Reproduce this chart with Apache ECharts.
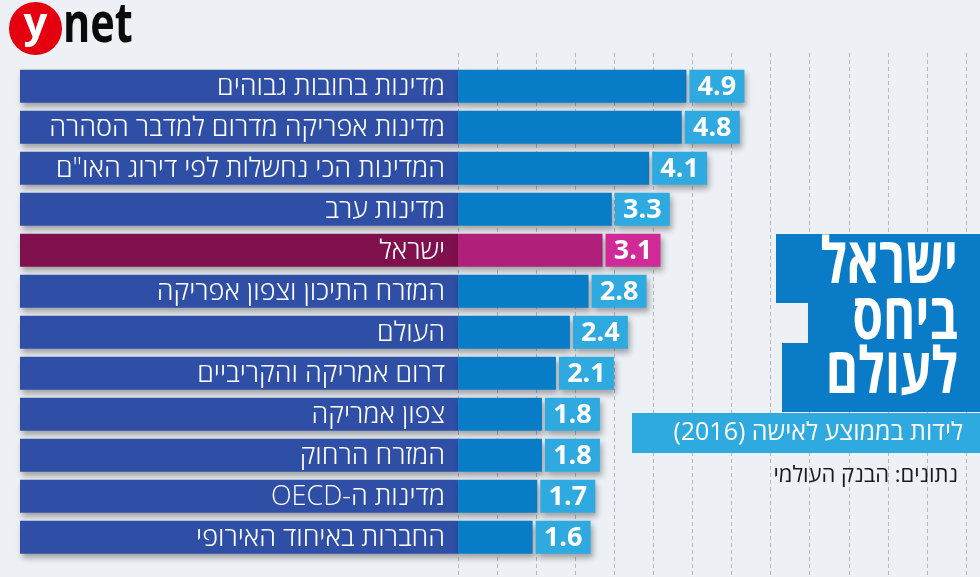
<!DOCTYPE html>
<html>
<head>
<meta charset="utf-8">
<script src="https://cdn.jsdelivr.net/npm/echarts@6/dist/echarts.min.js"></script>
<style>
html,body{margin:0;padding:0;background:#edf0f5;}
#chart{width:980px;height:577px;}
</style>
</head>
<body>
<div id="chart" dir="rtl"></div>
<script>
// ---- data ----
const categories = [
  'מדינות בחובות גבוהים',
  'מדינות אפריקה מדרום למדבר הסהרה',
  'המדינות הכי נחשלות לפי דירוג האו"ם',
  'מדינות ערב',
  'ישראל',
  'המזרח התיכון וצפון אפריקה',
  'העולם',
  'דרום אמריקה והקריביים',
  'צפון אמריקה',
  'המזרח הרחוק',
  'מדינות ה-OECD',
  'החברות באיחוד האירופי'
];
const values = [4.9, 4.8, 4.1, 3.3, 3.1, 2.8, 2.4, 2.1, 1.8, 1.8, 1.7, 1.6];
const highlight = 'ישראל';
const titleLines = ['ישראל', 'ביחס', 'לעולם'];
const subtitle = 'לידות בממוצע לאישה (2016)';
const source = 'נתונים: הבנק העולמי';

// ---- style ----
const FONT = "'Open Sans', 'DejaVu Sans', sans-serif";
const X_MIN = -9.4, X_MAX = 11.2;
const C = {
  dark: '#2e4fa5', light: '#087cc7', box: '#2eaae0',
  ilDark: '#7f104d', ilLight: '#b01f79', ilBox: '#d12a98',
  title: '#0a7bc6', sub: '#2eaae0'
};

const chart = echarts.init(document.getElementById('chart'), null, {renderer: 'canvas'});

function renderItem(params, api) {
  const idx = api.value(0);
  const val = api.value(1);
  const c0 = api.coord([X_MIN, idx]);
  const cz = api.coord([0, idx]);
  const cv = api.coord([val, idx]);
  const h = api.size([0, 1])[1] * 0.805;
  const y = cz[1] - h / 2;
  const il = categories[idx] === highlight;
  const sh = {shadowBlur: 6, shadowOffsetX: 2, shadowOffsetY: 4, shadowColor: 'rgba(0,0,0,0.33)'};
  const boxW = 55;
  return {
    type: 'group',
    children: [
      {type: 'rect', shape: {x: c0[0], y: y, width: cz[0] - c0[0], height: h},
        style: Object.assign({fill: il ? C.ilDark : C.dark}, sh)},
      {type: 'rect', shape: {x: cz[0], y: y, width: cv[0] - cz[0], height: h},
        style: Object.assign({fill: il ? C.ilLight : C.light}, sh)},
      {type: 'rect', shape: {x: cv[0] + 3, y: y, width: boxW, height: h},
        style: Object.assign({fill: il ? C.ilBox : C.box}, sh)},
      {type: 'text', x: cz[0] - 13, y: cz[1] + 1,
        style: {text: categories[idx], fill: '#ffffff', font: '300 27px ' + FONT,
          align: 'right', verticalAlign: 'middle'}},
      {type: 'text', x: cv[0] + 3 + boxW / 2, y: cz[1] + 1,
        style: {text: val.toFixed(1), fill: '#ffffff', font: '700 27px ' + FONT,
          align: 'center', verticalAlign: 'middle'}}
    ]
  };
}

const option = {
  backgroundColor: '#edf0f5',
  animation: false,
  grid: [
    {left: 20, right: 0, top: 65.8, bottom: 19.2},
    {left: 458, right: 14, top: 53, bottom: 0}
  ],
  xAxis: [
    {type: 'value', gridIndex: 0, min: X_MIN, max: X_MAX, show: false},
    {type: 'value', gridIndex: 1, min: 0, max: 13, interval: 1,
      axisLine: {show: false}, axisTick: {show: false}, axisLabel: {show: false},
      splitLine: {show: true, lineStyle: {color: '#b4b8c0', type: [4, 3], width: 1}}}
  ],
  yAxis: [
    {type: 'category', gridIndex: 0, data: categories, inverse: true, show: false},
    {type: 'value', gridIndex: 1, show: false, splitLine: {show: false}}
  ],
  series: [{
    type: 'custom',
    xAxisIndex: 0, yAxisIndex: 0,
    renderItem: renderItem,
    encode: {x: 1, y: 0},
    data: categories.map((c, i) => [i, values[i]]),
    z: 5
  }],
  graphic: [
    // ynet logo
    {type: 'circle', shape: {cx: 35.5, cy: 28.5, r: 26.5}, style: {fill: '#e4000f'}, z: 100},
    {type: 'text', x: 35.5, y: 25, z: 101,
      style: {text: 'y', fill: '#ffffff', font: '700 42px ' + FONT, align: 'center', verticalAlign: 'middle'}},
    {type: 'text', x: 63, y: 26, z: 101, scaleX: 0.74,
      style: {text: 'net', fill: '#0a0a0a', font: "700 56px " + FONT,
        align: 'left', verticalAlign: 'middle'}},
    // title boxes
    {type: 'rect', shape: {x: 776, y: 234, width: 204, height: 69}, style: {fill: C.title}, z: 100},
    {type: 'rect', shape: {x: 808, y: 300, width: 172, height: 46}, style: {fill: C.title}, z: 100},
    {type: 'rect', shape: {x: 782, y: 343, width: 198, height: 69}, style: {fill: C.title}, z: 100},
    {type: 'text', x: 958, y: 265, z: 101, scaleX: 0.77,
      style: {text: titleLines[0], fill: '#fff', font: '700 64px ' + FONT, align: 'right', verticalAlign: 'middle'}},
    {type: 'text', x: 958, y: 321, z: 101, scaleX: 0.77,
      style: {text: titleLines[1], fill: '#fff', font: '700 64px ' + FONT, align: 'right', verticalAlign: 'middle'}},
    {type: 'text', x: 958, y: 375, z: 101, scaleX: 0.77,
      style: {text: titleLines[2], fill: '#fff', font: '700 64px ' + FONT, align: 'right', verticalAlign: 'middle'}},
    // subtitle
    {type: 'rect', shape: {x: 632, y: 413, width: 348, height: 40}, style: {fill: C.sub}, z: 100},
    {type: 'text', x: 963, y: 433, z: 101,
      style: {text: subtitle, fill: '#fff', font: '400 25px ' + FONT, align: 'right', verticalAlign: 'middle'}},
    {type: 'text', x: 958, y: 476, z: 101,
      style: {text: source, fill: '#1a1a1a', font: '400 22px ' + FONT, align: 'right', verticalAlign: 'middle'}}
  ]
};
chart.setOption(option);
</script>
</body>
</html>
